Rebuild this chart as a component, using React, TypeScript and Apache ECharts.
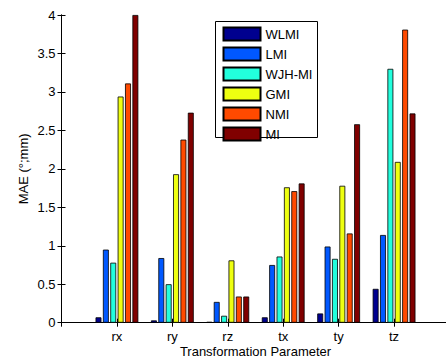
import React, { useEffect, useRef } from "react";
import * as echarts from "echarts";

const categories = ["rx", "ry", "rz", "tx", "ty", "tz"];
const seriesNames = ["WLMI", "LMI", "WJH-MI", "GMI", "NMI", "MI"];
const wlmi = [0.07, 0.03, 0.01, 0.07, 0.12, 0.44];
const lmi = [0.95, 0.84, 0.27, 0.75, 0.99, 1.14];
const wjhmi = [0.78, 0.5, 0.09, 0.86, 0.83, 3.3];
const gmi = [2.94, 1.93, 0.81, 1.76, 1.78, 2.09];
const nmi = [3.11, 2.38, 0.34, 1.71, 1.16, 3.81];
const mi = [4.0, 2.73, 0.34, 1.81, 2.58, 2.72];
const seriesValues = [wlmi, lmi, wjhmi, gmi, nmi, mi];
const colors = ["#00008F", "#0058FF", "#22FFDD", "#EEFF11", "#FF4A00", "#800000"];
const yTicks = ["0", "0.5", "1", "1.5", "2", "2.5", "3", "3.5", "4"];

const FONT = "'Liberation Sans', Arial, Helvetica, sans-serif";

export default function App() {
  const ref = useRef<HTMLDivElement>(null);
  useEffect(() => {
    if (!ref.current) return;
    const chart = echarts.init(ref.current, undefined, { renderer: "svg" });
    const axisCommon = {
      axisLine: { show: true, lineStyle: { color: "#000", width: 1 } },
      axisTick: { show: true, inside: true, length: 4, lineStyle: { color: "#000" } },
      splitLine: { show: false },
    };
    chart.setOption({
      animation: false,
      backgroundColor: "#fff",
      textStyle: { fontFamily: FONT },
      grid: {
        left: 61.5,
        top: 15,
        width: 388,
        height: 307.7,
        containLabel: false,
        outerBoundsMode: "none",
      },
      xAxis: [
        {
          type: "value",
          min: 0,
          max: 7,
          interval: 1,
          position: "bottom",
          ...axisCommon,
          axisLabel: {
            show: true,
            margin: 7,
            fontSize: 13,
            color: "#000",
            fontFamily: FONT,
            formatter: (v: number) => (v >= 1 && v <= 6 ? categories[v - 1] : ""),
          },
          name: "Transformation Parameter",
          nameLocation: "middle",
          nameMoveOverlap: false,
          nameGap: 22,
          nameTextStyle: { fontSize: 13, color: "#000", fontFamily: FONT },
        },
        {
          type: "value",
          min: 0,
          max: 7,
          interval: 1,
          position: "top",
          ...axisCommon,
          axisLabel: { show: false },
        },
      ],
      yAxis: [
        {
          type: "value",
          min: 0,
          max: 4,
          interval: 0.5,
          position: "left",
          ...axisCommon,
          axisLabel: {
            show: true,
            margin: 6,
            fontSize: 13,
            color: "#000",
            fontFamily: FONT,
            formatter: (v: number) => yTicks[Math.round(v * 2)] ?? "",
          },
          name: "MAE (°;mm)",
          nameLocation: "middle",
          nameMoveOverlap: false,
          nameGap: 31.5,
          nameTextStyle: { fontSize: 13, color: "#000", fontFamily: FONT },
        },
        {
          type: "value",
          min: 0,
          max: 4,
          interval: 0.5,
          position: "right",
          ...axisCommon,
          axisLabel: { show: false },
        },
      ],
      legend: {
        orient: "vertical",
        left: 222.5,
        top: 26.5,
        padding: 0,
        itemWidth: 37,
        itemHeight: 13,
        itemGap: 5,
        itemTextGap: 2,
        icon: "rect",
        z: 20,
        textStyle: { fontSize: 13, color: "#000", fontFamily: FONT },
        data: seriesNames,
      },
      graphic: [
        {
          type: "rect",
          z: 15,
          shape: { x: 215.5, y: 21.5, width: 102, height: 116 },
          style: { fill: "#fff", stroke: "#000", lineWidth: 1 },
        },
      ],
      series: seriesNames.map((name, i) => ({
        name,
        type: "bar",
        xAxisIndex: 0,
        yAxisIndex: 0,
        barWidth: 5.9,
        barGap: "25%",
        itemStyle: { color: colors[i], borderColor: "#000", borderWidth: 0.8 },
        data: seriesValues[i].map((v, j) => [j + 1, v]),
      })),
    });
    return () => chart.dispose();
  }, []);
  return (
    <div
      ref={ref}
      style={{ position: "absolute", left: 0, top: 0, width: 446, height: 358 }}
    />
  );
}
